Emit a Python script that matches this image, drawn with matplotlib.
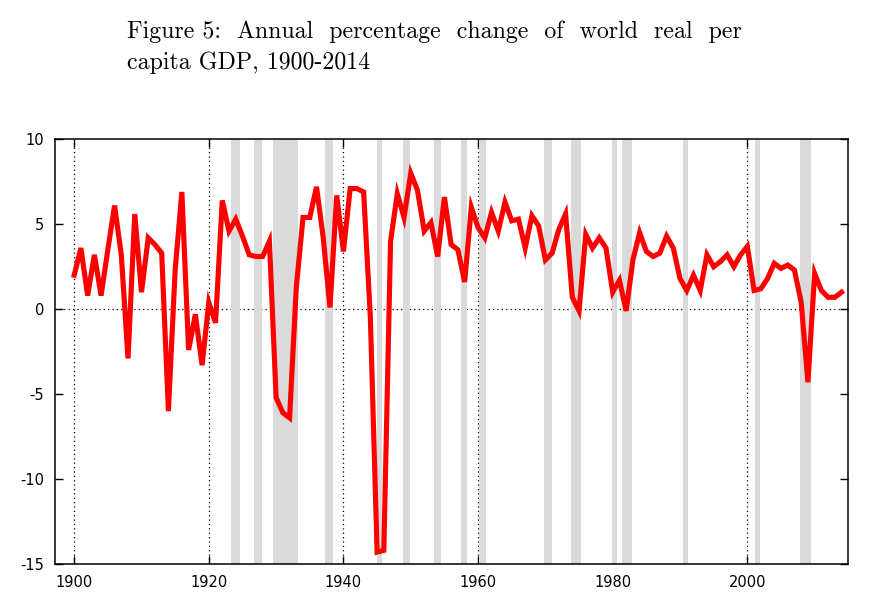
import numpy as np
import matplotlib
matplotlib.use("Agg")
from matplotlib import pyplot as plt

plt.rcParams["axes.unicode_minus"] = False

# annual % change of world real per capita GDP
years = np.arange(1900, 2015)
growth = [
    2.0, 3.6, 0.8, 3.2, 0.8, 3.5, 6.1, 3.2, -2.9, 5.6,   # 1900s
    1.0, 4.2, 3.8, 3.3, -6.0, 2.3, 6.9, -2.4, -0.3, -3.3,  # 1910s
    0.4, -0.8, 6.4, 4.6, 5.3, 4.3, 3.2, 3.1, 3.1, 4.0,   # 1920s
    -5.2, -6.1, -6.4, 1.3, 5.4, 5.4, 7.2, 4.2, 0.1, 6.7,  # 1930s
    3.4, 7.1, 7.1, 6.9, -0.5, -14.3, -14.2, 4.0, 6.8, 5.4,  # 1940s
    8.0, 7.0, 4.6, 5.1, 3.1, 6.6, 3.8, 3.5, 1.6, 6.0,    # 1950s
    4.8, 4.2, 5.7, 4.6, 6.3, 5.2, 5.3, 3.6, 5.5, 4.9,    # 1960s
    2.9, 3.3, 4.7, 5.6, 0.7, -0.1, 4.4, 3.6, 4.2, 3.6,   # 1970s
    1.0, 1.7, -0.1, 2.9, 4.5, 3.4, 3.1, 3.3, 4.3, 3.6,   # 1980s
    1.8, 1.1, 2.0, 1.1, 3.2, 2.5, 2.8, 3.2, 2.5, 3.2,    # 1990s
    3.7, 1.1, 1.2, 1.8, 2.7, 2.4, 2.6, 2.3, 0.4, -4.3,   # 2000s
    2.1, 1.1, 0.7, 0.7, 1.0,                             # 2010s
]

# shaded periods (US recessions), fractional years
rec_start = [1923.3, 1926.75, 1929.5, 1937.3, 1945.0, 1948.85, 1953.45, 1957.5,
             1960.2, 1969.8, 1973.8, 1979.9, 1981.4, 1990.45, 2001.1, 2007.85]
rec_end = [1924.6, 1927.85, 1933.2, 1938.45, 1945.8, 1949.85, 1954.45, 1958.4,
           1961.15, 1970.95, 1975.25, 1980.65, 1982.9, 1991.25, 2001.85, 2009.5]

title = ("Figure 5:  Annual  percentage  change  of  world  real  per\n"
         "capita GDP, 1900-2014")

fig = plt.figure(figsize=(8.81, 6.01), dpi=100)
fig.text(0.144, 0.966, title, family="cmr10", fontsize=17.2, va="top", ha="left",
         linespacing=1.5)

ax = fig.add_axes([0.0628, 0.0616, 0.9001, 0.7066])
for s, e in zip(rec_start, rec_end):
    ax.axvspan(s, e, color="#dadada", lw=0, zorder=1)

ax.plot(years, growth, color="#ff0000", lw=3.7, zorder=3, solid_joinstyle="miter")
ax.axhline(0, color="black", lw=0.9, ls=(0, (1, 2.5)), zorder=0.5)

ax.set_xlim(1897.2, 2015)
ax.set_ylim(-15, 10)
ax.set_xticks(np.arange(1900, 2001, 20))
ax.set_yticks(np.arange(-15, 11, 5))
ax.grid(axis="x", color="black", lw=0.9, ls=(0, (1, 2.5)))
ax.set_axisbelow(True)
ax.tick_params(direction="in", length=6, width=1, top=True, right=True,
               labelsize=10.5, pad=8)
for sp in ax.spines.values():
    sp.set_linewidth(1.1)

fig.savefig("out.png", dpi=100)
